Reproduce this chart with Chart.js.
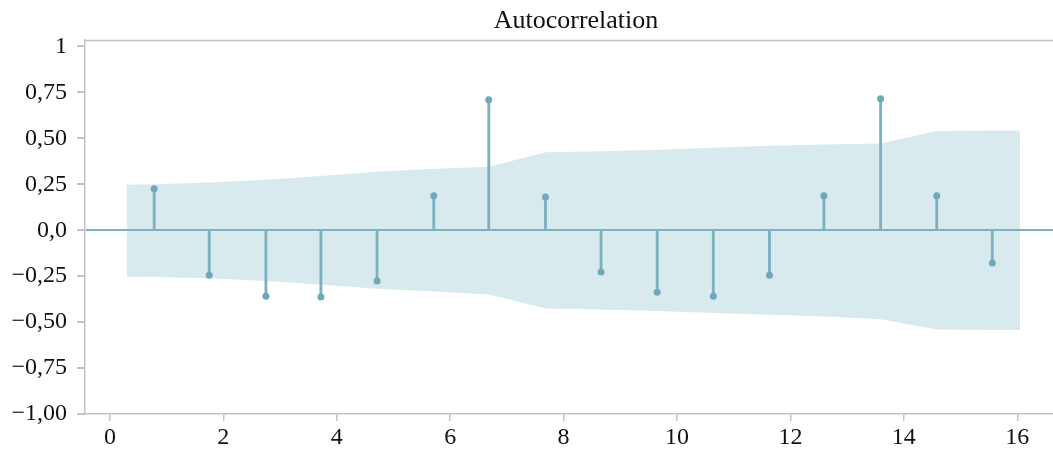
<!DOCTYPE html>
<html>
<head>
<meta charset="utf-8">
<title>Autocorrelation</title>
<script src="https://cdn.jsdelivr.net/npm/chart.js@4/dist/chart.umd.min.js"></script>
<style>
  html, body { margin: 0; padding: 0; background: #ffffff; }
  #wrap { width: 1053px; height: 450px; }
</style>
</head>
<body>
<div id="wrap"><canvas id="acf" width="1053" height="450"></canvas></div>
<script>
// Lag positions and autocorrelation values.
const lags = [0.78, 1.75, 2.75, 3.72, 4.71, 5.71, 6.68, 7.68, 8.66, 9.65, 10.64, 11.63, 12.59, 13.59, 14.58, 15.56];
const acf = [0.225, -0.245, -0.359, -0.364, -0.277, 0.187, 0.71, 0.181, -0.228, -0.337, -0.359, -0.245, 0.187, 0.716, 0.187, -0.179];

// Confidence band vertices.
const bandX = [0.3, 0.78, 1.75, 2.75, 3.72, 4.71, 5.71, 6.68, 7.68, 8.66, 9.65, 10.64, 11.63, 12.59, 13.59, 14.58, 15.56, 16.05];
const bandUpper = [0.248, 0.25, 0.26, 0.274, 0.295, 0.318, 0.334, 0.345, 0.424, 0.43, 0.438, 0.449, 0.459, 0.466, 0.472, 0.54, 0.543, 0.543];
const bandLower = [-0.253, -0.255, -0.262, -0.276, -0.297, -0.318, -0.334, -0.35, -0.426, -0.432, -0.44, -0.45, -0.46, -0.47, -0.485, -0.54, -0.543, -0.543];

// Axis ticks.
const xTickValues = [0, 2, 4, 6, 8, 10, 12, 14, 16];
const yTickValues = [-1, -0.75, -0.5, -0.25, 0, 0.25, 0.5, 0.75, 1];
const yTickLabels = ["\u22121,00", "\u22120,75", "\u22120,50", "\u22120,25", "0,0", "0,25", "0,50", "0,75", "1"];

const chartTitle = "Autocorrelation";

const stemColor = "#7db1c1";
const dotColor = "#6fa9b9";
const bandColor = "#d9eaef";
const axisColor = "#c3c3c3";
const fontFamily = "'Liberation Serif', 'DejaVu Serif', serif";

const toPoints = (xs, ys) => xs.map((x, i) => ({ x: x, y: ys[i] }));

// Title and the grey top border line.
const framePlugin = {
  id: "frame",
  afterDraw(chart) {
    const ctx = chart.ctx;
    const area = chart.chartArea;
    ctx.save();
    ctx.strokeStyle = axisColor;
    ctx.lineWidth = 1.5;
    ctx.beginPath();
    ctx.moveTo(area.left, area.top + 0.5);
    ctx.lineTo(area.right, area.top + 0.5);
    ctx.stroke();
    ctx.fillStyle = "#111111";
    ctx.font = "26px " + fontFamily;
    ctx.textAlign = "center";
    ctx.textBaseline = "alphabetic";
    ctx.fillText(chartTitle, (area.left + area.right) / 2 + 7, 28);
    ctx.restore();
  }
};

new Chart(document.getElementById("acf"), {
  type: "bar",
  data: {
    datasets: [
      {
        type: "line",
        data: toPoints(bandX, bandUpper),
        backgroundColor: bandColor,
        borderWidth: 0,
        pointRadius: 0,
        fill: "+1",
        order: 5
      },
      {
        type: "line",
        data: toPoints(bandX, bandLower),
        backgroundColor: bandColor,
        borderWidth: 0,
        pointRadius: 0,
        fill: false,
        order: 6
      },
      {
        type: "bar",
        data: toPoints(lags, acf),
        backgroundColor: stemColor,
        barThickness: 2.2,
        order: 2
      },
      {
        type: "scatter",
        data: toPoints(lags, acf),
        backgroundColor: dotColor,
        borderWidth: 0,
        pointRadius: 3.5,
        order: 1
      }
    ]
  },
  options: {
    responsive: false,
    animation: false,
    layout: { autoPadding: false, padding: { top: 40, left: 0, right: 0, bottom: 0 } },
    plugins: {
      legend: { display: false },
      title: { display: false },
      tooltip: { enabled: false }
    },
    scales: {
      x: {
        type: "linear",
        offset: false,
        min: -0.44,
        max: 16.63,
        afterBuildTicks: (scale) => { scale.ticks = xTickValues.map(v => ({ value: v })); },
        afterFit: (scale) => { scale.height = 36; },
        ticks: {
          color: "#111111",
          font: { family: fontFamily, size: 24 },
          padding: 2,
          maxRotation: 0,
          callback: (v) => String(v)
        },
        grid: {
          offset: false,
          drawOnChartArea: false,
          drawTicks: true,
          tickLength: 7,
          tickColor: axisColor,
          lineWidth: 1.5
        },
        border: { display: true, color: axisColor, width: 1.5 }
      },
      y: {
        min: -1,
        max: 1.035,
        afterBuildTicks: (scale) => { scale.ticks = yTickValues.map(v => ({ value: v })); },
        afterFit: (scale) => { scale.width = 85; },
        ticks: {
          color: "#111111",
          font: { family: fontFamily, size: 24 },
          padding: 10,
          callback: (v) => yTickLabels[yTickValues.indexOf(v)]
        },
        grid: {
          z: 1,
          drawOnChartArea: true,
          drawTicks: true,
          tickLength: 8,
          tickColor: axisColor,
          color: (ctx) => (ctx.tick && ctx.tick.value === 0 ? stemColor : "rgba(0,0,0,0)"),
          lineWidth: 2
        },
        border: { z: 1, display: true, color: axisColor, width: 1.5 }
      }
    }
  },
  plugins: [framePlugin]
});
</script>
</body>
</html>
